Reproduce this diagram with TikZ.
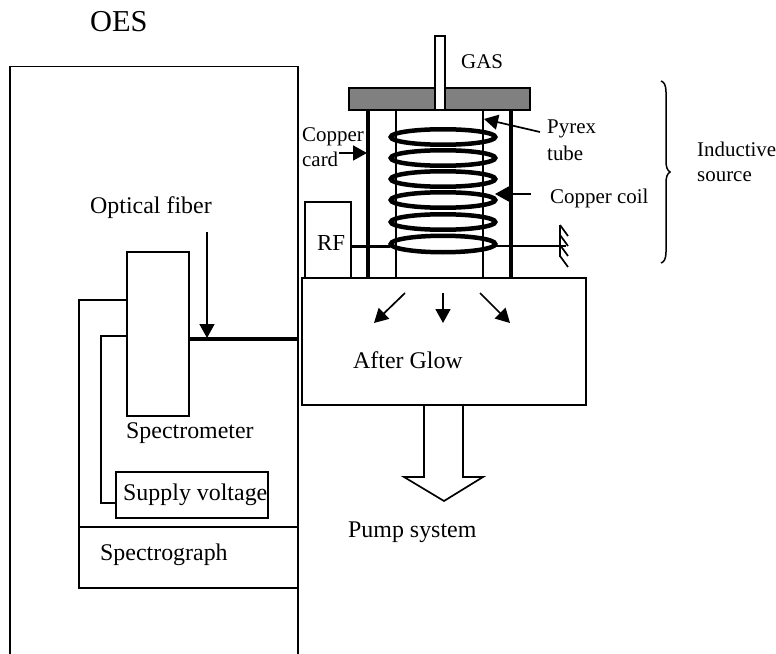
\documentclass[tikz,border=0pt]{standalone}
\usepackage{fontspec}
\setmainfont{Liberation Serif}
\usetikzlibrary{arrows.meta,shapes.geometric}
\tikzset{
  x=1bp,y=-1bp,
  boxn/.style={draw,line width=1.7bp,fill=white,inner sep=0,outer sep=0,anchor=north west},
  wire/.style={line width=1.7bp},
  thickwire/.style={line width=3.5bp},
  pyrex/.style={line width=1.5bp},
  cardline/.style={line width=4bp},
  coilturn/.style={draw,ellipse,line width=4.5bp,minimum width=104.5bp,minimum height=15.5bp,inner sep=0,outer sep=0},
  pointer/.style={line width=1.7bp,-{Triangle[length=14bp,width=15bp]}},
  big/.style={anchor=base west,inner sep=0,font=\fontsize{24}{24}\selectfont},
  small/.style={anchor=base west,inner sep=0,font=\fontsize{21}{21}\selectfont},
}
\begin{document}
\begin{tikzpicture}
\useasboundingbox (0,0) rectangle (776,654);
% OES enclosure
\coordinate (oesbl) at (10,654);
\coordinate (oestl) at (10,66.5);
\coordinate (oestr) at (298,66.5);
\coordinate (oesbr) at (298,654);
\draw[line width=1.8bp] (oesbl) -- (oestl) -- (oestr) -- (oesbr);
\node[big,font=\fontsize{30.5}{30}\selectfont] (oes) at (90,32) {OES};
% Chamber
\node[boxn,minimum width=284bp,minimum height=127bp] (chamber) at (302,278) {};
% RF
\node[boxn,minimum width=46bp,minimum height=76bp] (rf) at (305,202) {};
\node[big,font=\fontsize{23}{23}\selectfont] (rft) at (317,250) {RF};
% Walls
\draw[pyrex] (396,110) -- (396,278);
\draw[pyrex] (483,110) -- (483,278);
\draw[cardline] (368,110) -- (368,278);
\draw[cardline] (511,110) -- (511,278);
% Plate and gas tube
\node[boxn,fill={rgb,255:red,128;green,128;blue,128},minimum width=181bp,minimum height=22bp] (plate) at (349,88) {};
\node[boxn,minimum width=10bp,minimum height=74bp] (gas) at (435,36) {};
\node[small] (gast) at (461,69) {GAS};
% Coil
\coordinate (gnd) at (566,246);
\node[coilturn] (c1) at (443,137) {};
\node[coilturn] (c2) at (443,158) {};
\node[coilturn] (c3) at (443,179) {};
\node[coilturn] (c4) at (443,200) {};
\node[coilturn] (c5) at (443,222) {};
\node[coilturn,minimum height=16.5bp] (c6) at (443,244) {};
\draw[thickwire] (rf.east |- 0,246.5) -- (390,246.5);
\draw[wire] (496,246) -- (gnd);
% Ground
\draw[wire] (560,225) -- (560,257);
\foreach \yy in {225,235,245,256} \draw[wire] (560,\yy) -- (568,\yy+11);
% Labels with pointers
\node[small] (cop1) at (302,142) {Copper};
\node[small] (cop2) at (302,166) {card};
\coordinate (cardtip) at (367,153);
\draw[pointer] (339,153) -- (cardtip);
\node[small] (py1) at (547,134) {Pyrex};
\node[small] (py2) at (547,160) {tube};
\draw[pointer] (540,132) -- (484,119);
\node[small] (coilt) at (550,203) {Copper coil};
\draw[pointer] (531,194) -- (495,194);
% Brace
\draw[line width=1.5bp] (661,81) .. controls (664,82) and (666,85) .. (666,92)
  -- (666,160) .. controls (666,167) and (667,170) .. (670,172)
  .. controls (667,174) and (666,177) .. (666,184)
  -- (666,252) .. controls (666,259) and (664,262) .. (661,263);
\node[small] (ind1) at (697,156) {Inductive};
\node[small] (ind2) at (697,181) {source};
% Afterglow
\draw[pointer] (405,293) -- (374,323);
\draw[pointer] (443,293) -- (443,323);
\draw[pointer] (480,293) -- (510,323);
\node[big] (ag) at (353,368) {After Glow};
% Pump arrow
\draw[line width=1.7bp,line join=miter] (424,405) -- (424,477) -- (404,477) -- (444,501) -- (483,477) -- (463,477) -- (463,405);
\node[big] (pump) at (348,537) {Pump system};
% Optical fiber
\node[big] (opt) at (90,213) {Optical fiber};
\node[boxn,minimum width=219bp,minimum height=61bp] (sgraph) at (79,527) {};
\node[boxn,minimum width=62bp,minimum height=164bp] (smeter) at (127,252) {};
\node[boxn,minimum width=152bp,minimum height=46bp] (supply) at (116,472) {};
\node[big] (supt) at (123,500) {Supply voltage};
\node[big] (smt) at (126,438) {Spectrometer};
\node[big] (sgt) at (100,560) {Spectrograph};
\draw[wire] (smeter.west |- 0,300) -- (79,300) -- (sgraph.north west);
\draw[wire] (smeter.west |- 0,336) -- (101,336) -- (101,503) -- (supply.west |- 0,503);
\draw[thickwire] (smeter.east |- 0,339) -- (oestr |- 0,339);
\coordinate (fibtop) at (207,232);
\draw[pointer] (fibtop) -- (207,338);
\end{tikzpicture}
\end{document}
